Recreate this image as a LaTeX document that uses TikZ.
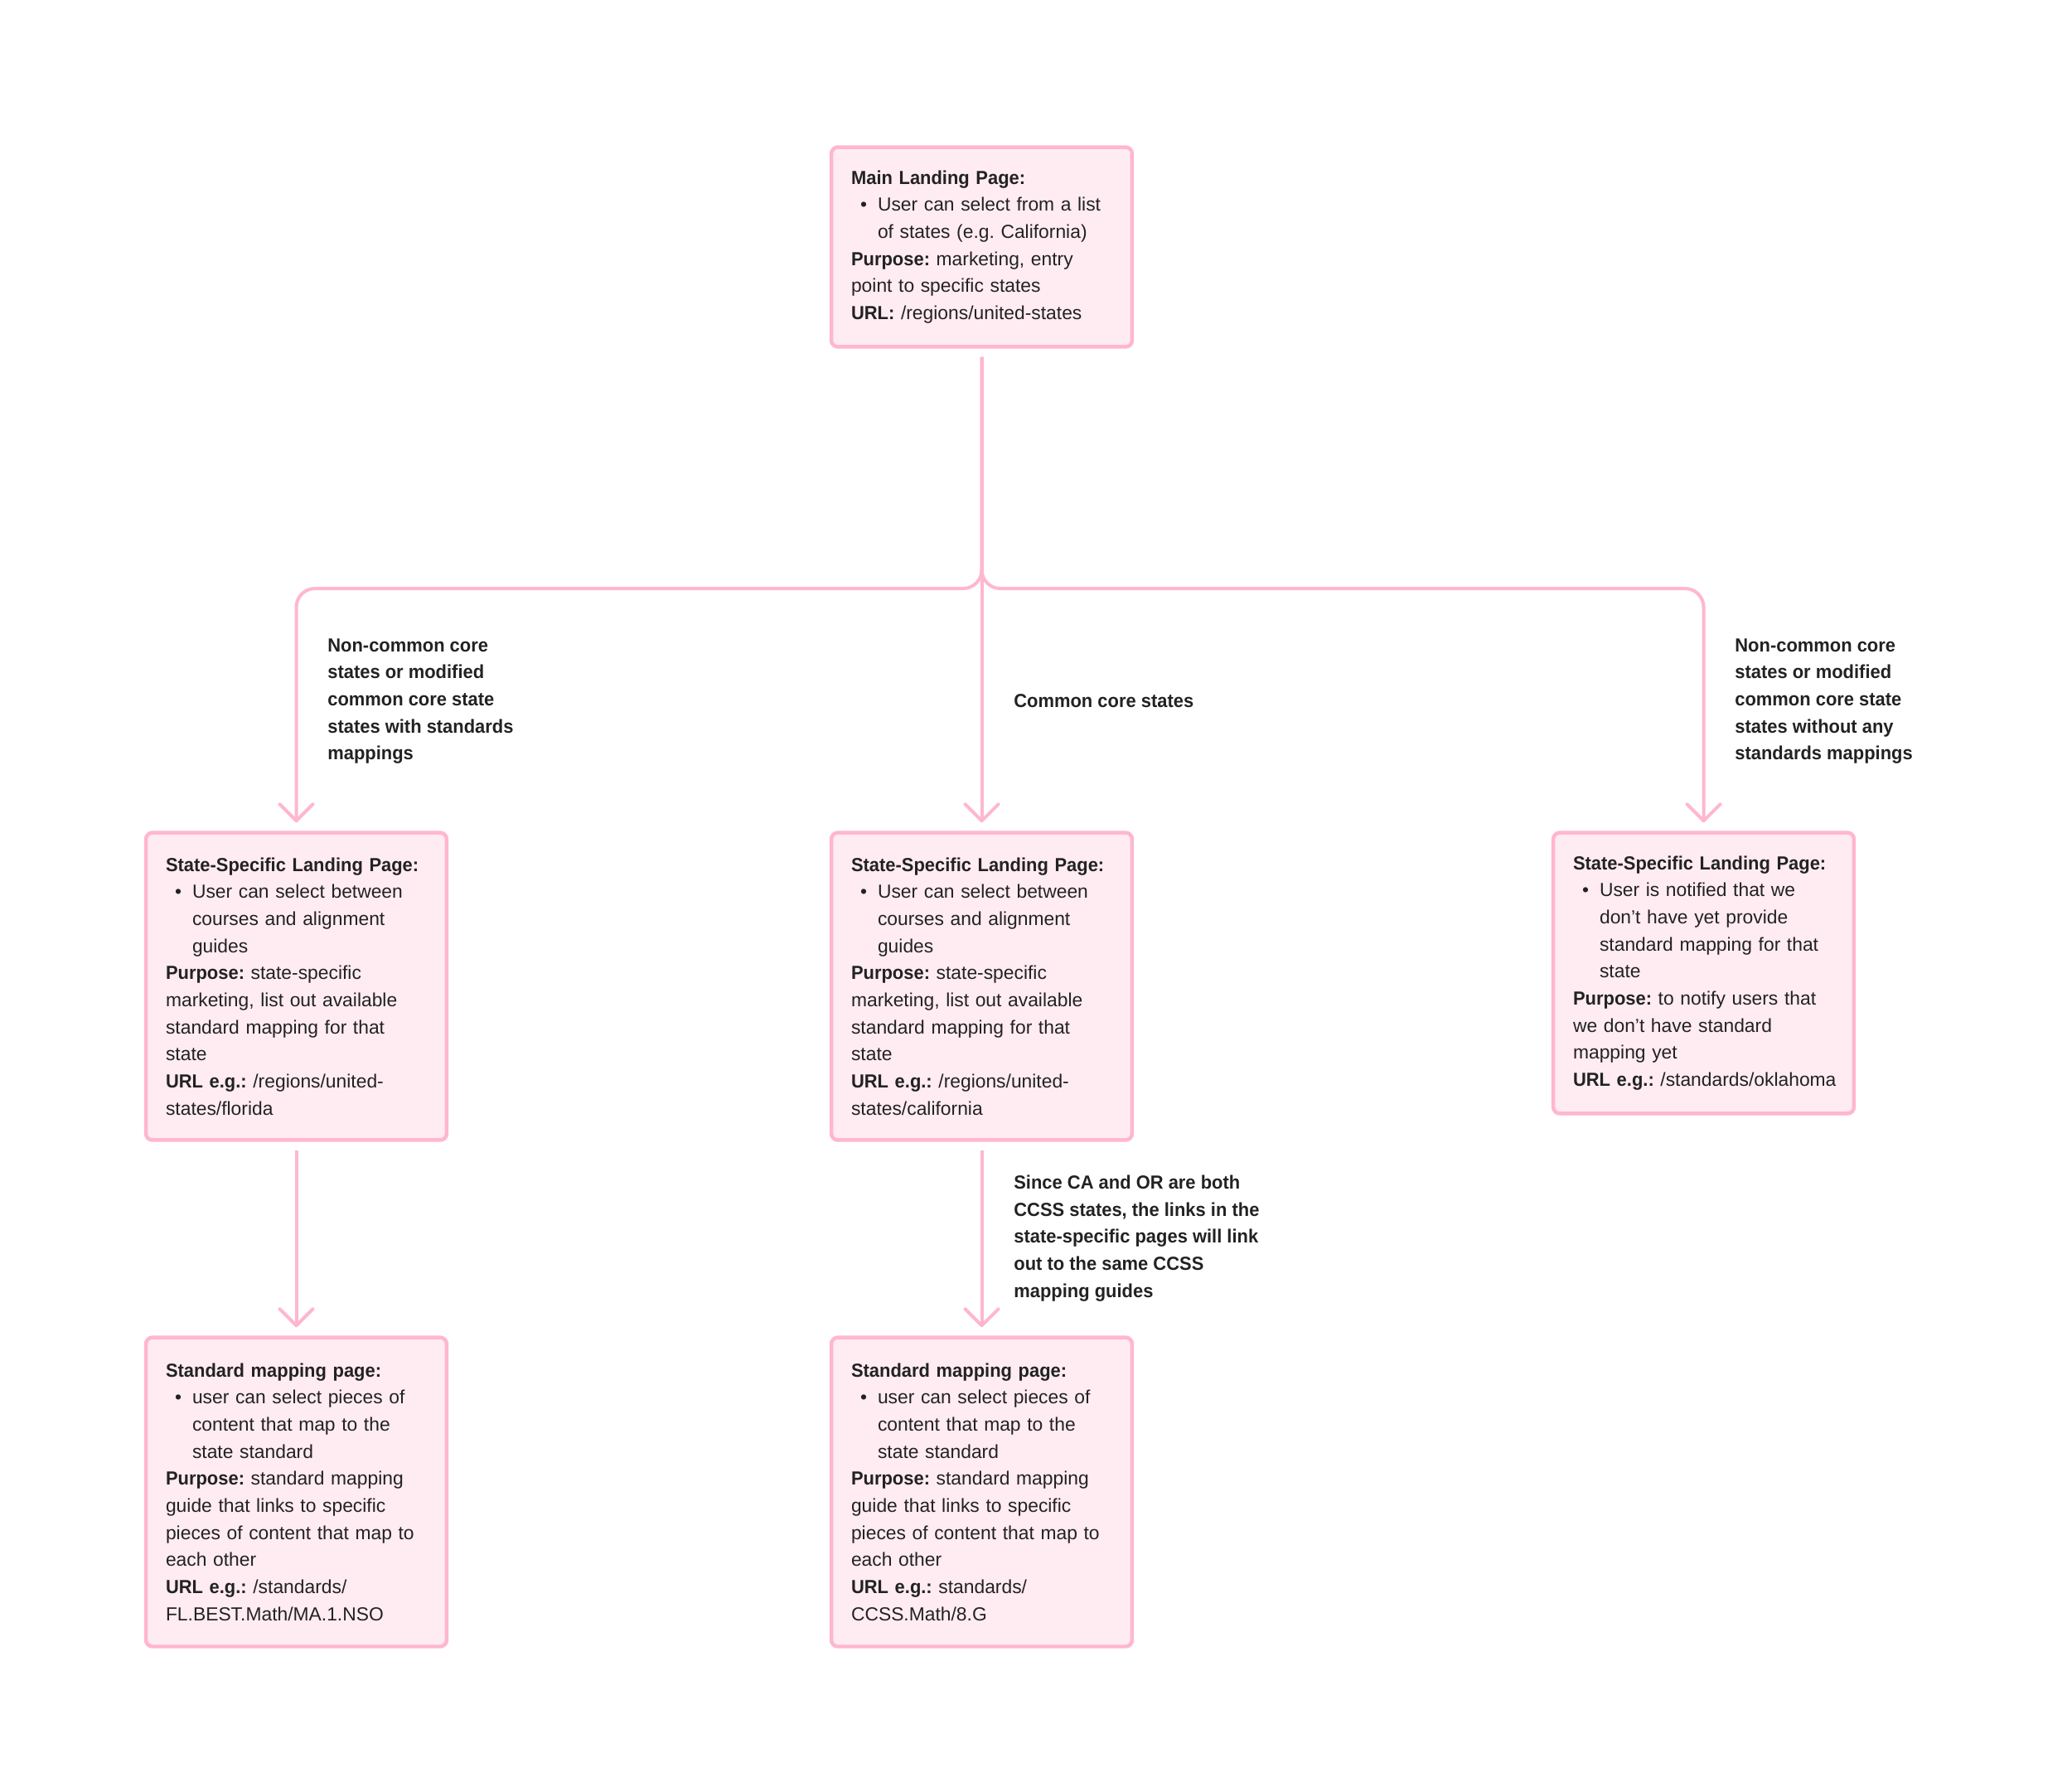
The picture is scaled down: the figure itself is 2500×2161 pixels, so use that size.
\documentclass[tikz,border=0pt]{standalone}
\usepackage{fontspec}
\setmainfont{Liberation Sans}[BoldFeatures={FakeStretch=0.96}]
\usepackage{tikz}
\usetikzlibrary{arrows.meta, calc}
\setlength{\parindent}{0pt}
\frenchspacing
\definecolor{pinkline}{RGB}{255,183,206}
\definecolor{pinkfill}{RGB}{255,236,242}
\definecolor{inktext}{RGB}{34,34,34}
\newcommand{\pagefont}{\fontsize{13}{18.6}\selectfont}
\newcommand{\itembul}{\makebox[0.64cm][l]{\hspace{0.22cm}\textbullet}}
\newcommand{\itemcont}{\hspace*{0.64cm}}
\tikzset{
  page/.style={rectangle, rounded corners=0.16cm, draw=pinkline, line width=0.09cm, fill=pinkfill, text=inktext, text width=6.3cm, align=left, inner xsep=0.48cm, inner ysep=0cm, font=\pagefont},
  note/.style={anchor=west, align=left, inner sep=0pt, text=inktext, font=\pagefont\bfseries},
  link/.style={draw=pinkline, line width=0.08cm, -{Straight Barb[length=0.4cm, width=0.8cm, round]}, shorten <=0.2cm, shorten >=0.2cm, rounded corners=0.45cm}
}

\begin{document}
\begin{tikzpicture}[x=0.02cm, y=-0.02cm]
        \useasboundingbox (0,0) rectangle (2500,2161);

        % 1. Pagina principal
        \node[page, minimum height=4.82cm] (main) at (1184.5, 298) {%
            \textbf{Main Landing Page:}\\
            \itembul User can select from a list\\
            \itemcont of states (e.g. California)\\
            \textbf{Purpose:} marketing, entry\\
            point to specific states\\
            \textbf{URL:} /regions/united-states};

        % 2. Paginas por estado
        \node[page, minimum height=7.42cm] (stateL) at (357.5, 1190) {%
            \textbf{State-Specific Landing Page:}\\
            \itembul User can select between\\
            \itemcont courses and alignment\\
            \itemcont guides\\
            \textbf{Purpose:} state-specific\\
            marketing, list out available\\
            standard mapping for that\\
            state\\
            \textbf{URL e.g.:} /regions/united-\\
            states/florida};
        \node[page, minimum height=7.42cm] (stateC) at (1184.5, 1190) {%
            \textbf{State-Specific Landing Page:}\\
            \itembul User can select between\\
            \itemcont courses and alignment\\
            \itemcont guides\\
            \textbf{Purpose:} state-specific\\
            marketing, list out available\\
            standard mapping for that\\
            state\\
            \textbf{URL e.g.:} /regions/united-\\
            states/california};
        \node[page, minimum height=6.78cm] (stateR) at (2055.5, 1174) {%
            \textbf{State-Specific Landing Page:}\\
            \itembul User is notified that we\\
            \itemcont don’t have yet provide\\
            \itemcont standard mapping for that\\
            \itemcont state\\
            \textbf{Purpose:} to notify users that\\
            we don’t have standard\\
            mapping yet\\
            \mbox{\textbf{URL e.g.:} /standards/oklahoma}};

        % 3. Paginas de mapeo
        \node[page, minimum height=7.46cm] (mapL) at (357.5, 1800) {%
            \textbf{Standard mapping page:}\\
            \itembul user can select pieces of\\
            \itemcont content that map to the\\
            \itemcont state standard\\
            \textbf{Purpose:} standard mapping\\
            guide that links to specific\\
            pieces of content that map to\\
            each other\\
            \textbf{URL e.g.:} /standards/\\
            FL.BEST.Math/MA.1.NSO};
        \node[page, minimum height=7.46cm] (mapC) at (1184.5, 1800) {%
            \textbf{Standard mapping page:}\\
            \itembul user can select pieces of\\
            \itemcont content that map to the\\
            \itemcont state standard\\
            \textbf{Purpose:} standard mapping\\
            guide that links to specific\\
            pieces of content that map to\\
            each other\\
            \textbf{URL e.g.:} standards/\\
            CCSS.Math/8.G};

        % 4. Conexiones
        \coordinate (split) at (1184.5, 710);
        \draw[link] (main) -- (stateC);
        \draw[link] (main.south) -- (split) -| (stateL.north);
        \draw[link] (main.south) -- (split) -| (stateR.north);
        \draw[link] (stateL) -- (mapL);
        \draw[link] (stateC) -- (mapC);

        % 5. Etiquetas
        \node[note] (lblL) at (395, 846) {Non-common core\\states or modified\\common core state\\states with standards\\mappings};
        \node[note] (lblC) at (1223, 846) {Common core states};
        \node[note] (lblR) at (2093, 846) {Non-common core\\states or modified\\common core state\\states without any\\standards mappings};
        \node[note] (lblB) at (1223, 1494) {Since CA and OR are both\\CCSS states, the links in the\\state-specific pages will link\\out to the same CCSS\\mapping guides};

    \end{tikzpicture}
\end{document}
